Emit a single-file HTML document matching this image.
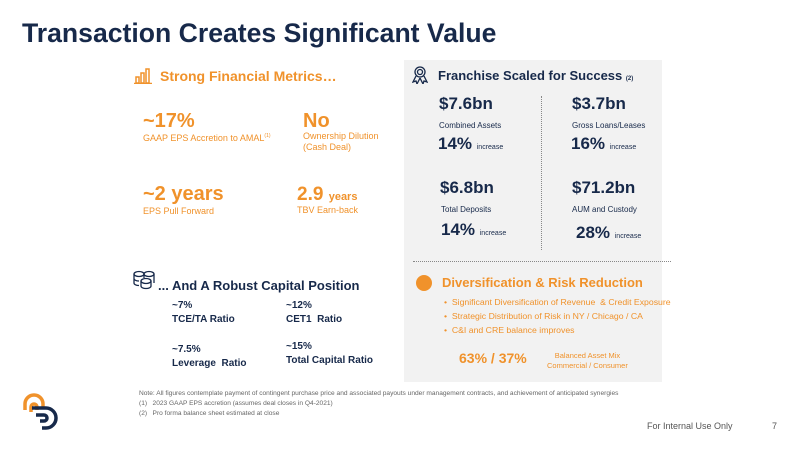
<!DOCTYPE html>
<html><head><meta charset="utf-8"><style>
body{margin:0;width:800px;height:449px;overflow:hidden;background:#fff;font-family:"Liberation Sans",sans-serif;position:relative}
.a{position:absolute;white-space:nowrap}
.n{color:#17294a}.o{color:#f0922b}.b{font-weight:bold}
</style></head><body>
<div class="a n b" style="left:22px;top:18px;font-size:26.6px">Transaction Creates Significant Value</div>
<div class="a" style="left:404px;top:60px;width:258px;height:322px;background:#f2f2f2"></div>

<svg class="a" style="left:134px;top:68px" width="18" height="16" viewBox="0 0 18 16"><g fill="none" stroke="#f0922b" stroke-width="1.5"><rect x="2" y="9" width="3" height="6"/><rect x="7" y="5" width="3" height="10"/><rect x="12" y="1" width="3" height="14"/><line x1="0" y1="15.5" x2="18" y2="15.5"/></g></svg>
<div class="a o b" style="left:160px;top:68px;font-size:14px">Strong Financial Metrics…</div>
<div class="a o b" style="left:143px;top:110px;font-size:20px">~17%</div>
<div class="a o" style="left:143px;top:133px;font-size:9px">GAAP EPS Accretion to AMAL<sup style="font-size:5px">(1)</sup></div>
<div class="a o b" style="left:303px;top:110px;font-size:20px">No</div>
<div class="a o" style="left:303px;top:131px;font-size:9px;line-height:11px">Ownership Dilution<br>(Cash Deal)</div>
<div class="a o b" style="left:143px;top:183px;font-size:20px">~2 years</div>
<div class="a o" style="left:143px;top:206px;font-size:9px">EPS Pull Forward</div>
<div class="a o b" style="left:297px;top:184px;font-size:19px">2.9 <span style="font-size:11px">years</span></div>
<div class="a o" style="left:297px;top:205px;font-size:9px">TBV Earn-back</div>

<svg class="a" style="left:133px;top:270px" width="24" height="20" viewBox="0 0 24 20"><g fill="none" stroke="#17294a" stroke-width="1.3"><ellipse cx="6" cy="4" rx="5" ry="2.5"/><path d="M1 4v9c0 1.5 2.2 2.5 5 2.5M1 8.5c0 1.5 2.2 2.5 5 2.5"/><ellipse cx="16" cy="4" rx="5" ry="2.5"/><path d="M21 4v9M11 4v4"/><ellipse cx="13" cy="11" rx="5" ry="2.5"/><path d="M8 11v5c0 1.5 2.2 2.5 5 2.5s5-1 5-2.5v-5"/></g></svg>
<div class="a n b" style="left:158px;top:278px;font-size:13px">... And A Robust Capital Position</div>
<div class="a n b" style="left:172px;top:299px;font-size:10px;line-height:14px">~7%<br>TCE/TA Ratio</div>
<div class="a n b" style="left:286px;top:299px;font-size:10px;line-height:14px">~12%<br>CET1&nbsp; Ratio</div>
<div class="a n b" style="left:172px;top:343px;font-size:10px;line-height:14px">~7.5%<br>Leverage&nbsp; Ratio</div>
<div class="a n b" style="left:286px;top:340px;font-size:10px;line-height:14px">~15%<br>Total Capital Ratio</div>

<svg class="a" style="left:412px;top:66px" width="16" height="18" viewBox="0 0 16 18"><g fill="none" stroke="#17294a" stroke-width="1.3"><circle cx="8" cy="6" r="5"/><circle cx="8" cy="6" r="2.5"/><path d="M4 10l-3 6 3-1 1 3 3-6M12 10l3 6-3-1-1 3-3-6"/></g></svg>
<div class="a n b" style="left:438px;top:68px;font-size:13px">Franchise Scaled for Success <span style="font-size:6px">(2)</span></div>
<div class="a" style="left:541px;top:96px;height:154px;border-left:1px dotted #888"></div>
<div class="a n b" style="left:439px;top:94px;font-size:17px">$7.6bn</div>
<div class="a n" style="left:439px;top:121px;font-size:8px">Combined Assets</div>
<div class="a n b" style="left:438px;top:134px;font-size:17px">14% <span style="font-size:7px;font-weight:normal">increase</span></div>
<div class="a n b" style="left:572px;top:94px;font-size:17px">$3.7bn</div>
<div class="a n" style="left:572px;top:121px;font-size:8px">Gross Loans/Leases</div>
<div class="a n b" style="left:571px;top:134px;font-size:17px">16% <span style="font-size:7px;font-weight:normal">increase</span></div>
<div class="a n b" style="left:440px;top:178px;font-size:17px">$6.8bn</div>
<div class="a n" style="left:441px;top:205px;font-size:8px">Total Deposits</div>
<div class="a n b" style="left:441px;top:220px;font-size:17px">14% <span style="font-size:7px;font-weight:normal">increase</span></div>
<div class="a n b" style="left:572px;top:178px;font-size:17px">$71.2bn</div>
<div class="a n" style="left:572px;top:205px;font-size:8px">AUM and Custody</div>
<div class="a n b" style="left:576px;top:223px;font-size:17px">28% <span style="font-size:7px;font-weight:normal">increase</span></div>
<div class="a" style="left:413px;top:261px;width:258px;border-top:1px dotted #888"></div>

<div class="a" style="left:416px;top:275px;width:16px;height:16px;border-radius:50%;background:#f0922b"></div>
<div class="a o b" style="left:442px;top:275px;font-size:13px">Diversification &amp; Risk Reduction</div>
<div class="a o" style="left:444px;top:297px;font-size:8.7px">•&nbsp; Significant Diversification of Revenue&nbsp; &amp; Credit Exposure</div>
<div class="a o" style="left:444px;top:311px;font-size:8.7px">•&nbsp; Strategic Distribution of Risk in NY / Chicago / CA</div>
<div class="a o" style="left:444px;top:325px;font-size:8.7px">•&nbsp; C&amp;I and CRE balance improves</div>
<div class="a o b" style="left:459px;top:350px;font-size:14px">63% / 37%</div>
<div class="a o" style="left:547px;top:351px;font-size:7.5px;line-height:10px;text-align:center">Balanced Asset Mix<br>Commercial / Consumer</div>

<div class="a" style="left:139px;top:389px;font-size:6.6px;line-height:10px;color:#666">Note: All figures contemplate payment of contingent purchase price and associated payouts under management contracts, and achievement of anticipated synergies<br>(1)&nbsp;&nbsp; 2023 GAAP EPS accretion (assumes deal closes in Q4-2021)<br>(2)&nbsp;&nbsp; Pro forma balance sheet estimated at close</div>

<svg class="a" style="left:22px;top:392px" width="36" height="38" viewBox="0 0 36 38"><g fill="none" stroke-width="3.5"><path d="M3 18V12a9 9 0 0 1 18 0v3" stroke="#f0922b"/><path d="M9 20v-5a3 3 0 0 1 6 0v3" stroke="#f0922b"/><path d="M10 16h14a10 10 0 0 1 0 20h-4" stroke="#17294a"/><path d="M14 23h8a3 3 0 0 1 0 6h-4" stroke="#17294a"/></g></svg>

<div class="a" style="left:647px;top:421px;font-size:9px;color:#555">For Internal Use Only</div>
<div class="a" style="left:772px;top:421px;font-size:9px;color:#555">7</div>
</body></html>
